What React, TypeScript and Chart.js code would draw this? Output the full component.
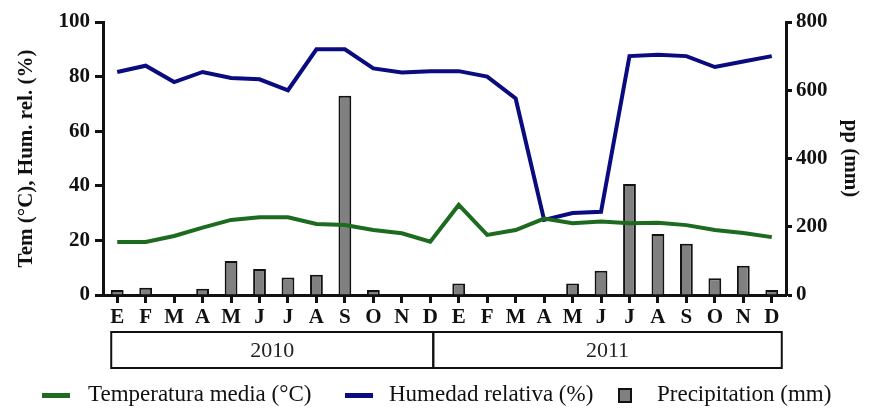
import { useEffect, useRef } from "react";
import { Chart, registerables } from "chart.js";

Chart.register(...registerables);

// Monthly climate series, January 2010 – December 2011
const months = ["E", "F", "M", "A", "M", "J", "J", "A", "S", "O", "N", "D", "E", "F", "M", "A", "M", "J", "J", "A", "S", "O", "N", "D"];
const years = ["2010", "2011"];
const temperature = [19.4, 19.4, 21.6, 24.7, 27.5, 28.5, 28.5, 26, 25.6, 23.8, 22.6, 19.5, 33, 22, 23.8, 28, 26.3, 26.9, 26.3, 26.5, 25.6, 23.8, 22.7, 21.2];
const humidity = [81.7, 84, 78, 81.7, 79.5, 79, 75, 90, 90, 83, 81.5, 82, 82, 80, 72, 27.5, 30, 30.5, 87.5, 88, 87.5, 83.5, 85.5, 87.5];
const precipitation = [15, 21, 0, 18, 100, 76, 51, 59, 584, 15, 0, 0, 34, 0, 0, 0, 34, 71, 325, 179, 150, 49, 86, 15];

const seriesNames = ["Temperatura media (°C)", "Humedad relativa (%)", "Precipitation (mm)"];
const leftTitle = "Tem (°C), Hum. rel. (%)";
const rightTitle = "pp (mm)";

const SERIF = "'Liberation Serif', 'Times New Roman', serif";
const GREEN = "#1c6b1f";
const NAVY = "#0b0b80";
const GREY = "#808080";
const INK = "#111111";

// Year boxes underneath the month labels
const yearBoxes = {
  id: "yearBoxes",
  afterDraw(chart: any) {
    const { ctx, chartArea, scales } = chart;
    const x = scales.x;
    const top = chartArea.bottom + 37;
    const bottom = chartArea.bottom + 73;
    const left = x.getPixelForValue(0) - 6;
    const mid = x.getPixelForValue(11) + 3;
    const right = x.getPixelForValue(23) + 10;
    ctx.save();
    ctx.strokeStyle = INK;
    ctx.lineWidth = 2;
    ctx.strokeRect(left, top, mid - left, bottom - top);
    ctx.strokeRect(mid, top, right - mid, bottom - top);
    ctx.fillStyle = "#222";
    ctx.font = `22px ${SERIF}`;
    ctx.textAlign = "center";
    ctx.textBaseline = "middle";
    ctx.fillText(years[0], (left + mid) / 2, (top + bottom) / 2 + 1);
    ctx.fillText(years[1], (mid + right) / 2, (top + bottom) / 2 + 1);
    ctx.restore();
  },
};

// Legend row along the bottom edge
const legendRow = {
  id: "legendRow",
  afterDraw(chart: any) {
    const { ctx } = chart;
    const y = 395;
    ctx.save();
    ctx.font = `23px ${SERIF}`;
    ctx.textBaseline = "middle";

    ctx.fillStyle = GREEN;
    ctx.fillRect(42, y - 2, 28, 5);
    ctx.fillStyle = INK;
    ctx.fillText(seriesNames[0], 88, y);

    ctx.fillStyle = NAVY;
    ctx.fillRect(345, y - 2, 28, 5);
    ctx.fillStyle = INK;
    ctx.fillText(seriesNames[1], 389, y);

    ctx.fillStyle = GREY;
    ctx.fillRect(619, y - 6, 12, 13);
    ctx.strokeStyle = INK;
    ctx.lineWidth = 2;
    ctx.strokeRect(619, y - 6, 12, 13);
    ctx.fillStyle = INK;
    ctx.fillText(seriesNames[2], 657, y);
    ctx.restore();
  },
};

export default function App() {
  const canvasRef = useRef<HTMLCanvasElement | null>(null);

  useEffect(() => {
    document.body.style.margin = "0";
    const canvas = canvasRef.current;
    if (!canvas) return;

    const chart = new Chart(canvas, {
      type: "bar",
      data: {
        labels: months,
        datasets: [
          {
            type: "line",
            label: seriesNames[0],
            data: temperature,
            yAxisID: "y",
            borderColor: GREEN,
            borderWidth: 4,
            pointRadius: 0,
            tension: 0,
            order: 0,
          },
          {
            type: "line",
            label: seriesNames[1],
            data: humidity,
            yAxisID: "y",
            borderColor: NAVY,
            borderWidth: 4,
            pointRadius: 0,
            tension: 0,
            order: 0,
          },
          {
            type: "bar",
            label: seriesNames[2],
            data: precipitation,
            yAxisID: "y1",
            backgroundColor: GREY,
            borderColor: INK,
            borderWidth: 2,
            barPercentage: 0.45,
            categoryPercentage: 1,
            order: 1,
          },
        ],
      },
      options: {
        responsive: false,
        animation: false,
        layout: { padding: { top: 22, left: 0, right: 0, bottom: 0 } },
        plugins: {
          legend: { display: false },
          tooltip: { enabled: false },
        },
        scales: {
          x: {
            offset: true,
            afterFit: (s: any) => {
              s.height = 113;
            },
            grid: {
              offset: false,
              drawOnChartArea: false,
              tickLength: 8,
              tickWidth: 3,
              tickColor: INK,
            },
            border: { display: true, color: INK, width: 3 },
            ticks: {
              color: INK,
              padding: 2,
              maxRotation: 0,
              autoSkip: false,
              font: { family: SERIF, size: 21, weight: "bold" },
            },
          },
          y: {
            position: "left",
            min: 0,
            max: 100,
            afterFit: (s: any) => {
              s.width = 103;
            },
            grid: {
              drawOnChartArea: false,
              tickLength: 8,
              tickWidth: 3,
              tickColor: INK,
            },
            border: { display: true, color: INK, width: 3 },
            ticks: {
              stepSize: 20,
              color: INK,
              padding: 5,
              font: { family: SERIF, size: 21, weight: "bold" },
            },
            title: {
              display: true,
              text: leftTitle,
              color: INK,
              padding: { top: 14, bottom: 0 },
              font: { family: SERIF, size: 21, weight: "bold" },
            },
          },
          y1: {
            position: "right",
            min: 0,
            max: 800,
            afterFit: (s: any) => {
              s.width = 88;
            },
            grid: {
              drawOnChartArea: false,
              tickLength: 6,
              tickWidth: 3,
              tickColor: INK,
            },
            border: { display: true, color: INK, width: 3 },
            ticks: {
              stepSize: 200,
              color: INK,
              padding: 4,
              font: { family: SERIF, size: 21, weight: "bold" },
            },
            title: {
              display: true,
              text: rightTitle,
              color: INK,
              padding: { top: 11, bottom: 0 },
              font: { family: SERIF, size: 21, weight: "bold" },
            },
          },
        },
      },
      plugins: [yearBoxes, legendRow],
    });

    return () => chart.destroy();
  }, []);

  return (
    <div style={{ width: 874, height: 408, background: "#fff" }}>
      <canvas ref={canvasRef} width={874} height={408} style={{ display: "block" }} />
    </div>
  );
}
